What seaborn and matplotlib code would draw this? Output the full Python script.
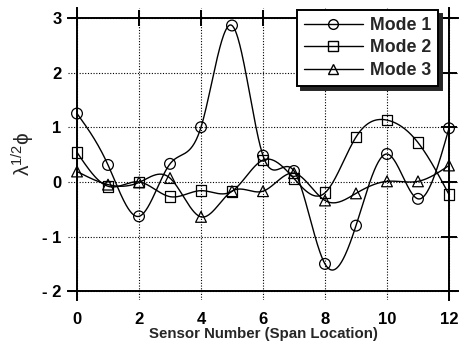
import numpy as np
import pandas as pd
import matplotlib
matplotlib.use("Agg")
import matplotlib.pyplot as plt
from matplotlib.lines import Line2D
import seaborn as sns

sensors = list(range(13))
mode1 = [1.25, 0.31, -0.63, 0.33, 1.0, 2.86, 0.48, 0.2, -1.5, -0.8, 0.51, -0.31, 0.98]
mode2 = [0.54, -0.08, 0.0, -0.27, -0.16, -0.17, 0.4, 0.06, -0.2, 0.82, 1.13, 0.72, -0.23]
mode3 = [0.19, -0.05, -0.01, 0.07, -0.64, -0.17, -0.17, 0.16, -0.34, -0.21, 0.01, 0.01, 0.3]
mode_names = ["Mode 1", "Mode 2", "Mode 3"]
x_ticks = [0, 2, 4, 6, 8, 10, 12]
y_ticks = [-2, -1, 0, 1, 2, 3]
y_tick_labels = ["- 2", "- 1", "0", "1", "2", "3"]


def natural_spline(x, y, xs):
    x = np.asarray(x, float)
    y = np.asarray(y, float)
    n = len(x)
    h = np.diff(x)
    A = np.zeros((n, n))
    b = np.zeros(n)
    A[0, 0] = 1
    A[-1, -1] = 1
    for i in range(1, n - 1):
        A[i, i - 1] = h[i - 1]
        A[i, i] = 2 * (h[i - 1] + h[i])
        A[i, i + 1] = h[i]
        b[i] = 3 * ((y[i + 1] - y[i]) / h[i] - (y[i] - y[i - 1]) / h[i - 1])
    c = np.linalg.solve(A, b)
    bb = (y[1:] - y[:-1]) / h - h * (2 * c[:-1] + c[1:]) / 3
    d = (c[1:] - c[:-1]) / (3 * h)
    idx = np.clip(np.searchsorted(x, xs) - 1, 0, n - 2)
    dx = xs - x[idx]
    return y[idx] + bb[idx] * dx + c[idx] * dx ** 2 + d[idx] * dx ** 3


sns.set_theme(style="white")
plt.rcParams["font.family"] = ["Liberation Sans", "DejaVu Sans"]
plt.rcParams["mathtext.fontset"] = "custom"
plt.rcParams["mathtext.rm"] = "Liberation Sans"
plt.rcParams["mathtext.it"] = "Liberation Sans"

fig = plt.figure(figsize=(4.64, 3.45), dpi=100)
ax = fig.add_axes([0.1466, 0.1304, 0.987 - 0.1466, 0.9768 - 0.1304])

series = [mode1, mode2, mode3]
pts = pd.DataFrame({
    "x": sensors * 3,
    "y": mode1 + mode2 + mode3,
    "mode": sum([[m] * 13 for m in mode_names], []),
})
xs = np.linspace(0, 12, 600)
dense = pd.concat([
    pd.DataFrame({"x": xs, "y": natural_spline(sensors, s, xs), "mode": m})
    for s, m in zip(series, mode_names)
])

pal = {m: "black" for m in mode_names}
sns.lineplot(data=dense, x="x", y="y", hue="mode", palette=pal, linewidth=1.0,
             legend=False, ax=ax, estimator=None, sort=False)
markers = {"Mode 1": "o", "Mode 2": "s", "Mode 3": "^"}
sns.scatterplot(data=pts, x="x", y="y", style="mode", markers=markers, s=60,
                facecolor="none", edgecolor="black", linewidth=0.9,
                legend=False, ax=ax, zorder=3)
for coll in ax.collections:
    coll.set_facecolor("none")
    coll.set_edgecolor("black")

ax.set_xlim(-0.29, 12.29)
ax.set_ylim(-2.16, 3.18)
for side, pos in [("left", 0), ("right", 12), ("bottom", -2), ("top", 3)]:
    ax.spines[side].set_position(("data", pos))
    ax.spines[side].set_color("black")
    ax.spines[side].set_linewidth(1.4)
ax.set_xticks(x_ticks)
ax.set_yticks(y_ticks)
ax.set_yticklabels(y_tick_labels)
ax.tick_params(direction="inout", length=12, width=1.4, colors="black",
               top=True, right=True, labeltop=False, labelright=False,
               labelsize=12)
ax.tick_params(axis="x", pad=9)
ax.tick_params(axis="y", pad=5)
for lab in ax.get_xticklabels() + ax.get_yticklabels():
    lab.set_fontweight("bold")
ax.grid(True, linestyle=(0, (1, 1.5)), color="black", linewidth=0.8)
ax.set_xlabel("Sensor Number (Span Location)", fontsize=10.8, fontweight="bold", labelpad=0)
ax.set_ylabel("λ$^{1/2}$ϕ", fontsize=15, labelpad=4)

handles = [Line2D([], [], color="black", linewidth=1.0, marker=markers[m],
                  markersize=7, markerfacecolor="none", markeredgecolor="black")
           for m in mode_names]
leg = ax.legend(handles, mode_names, loc="upper right", bbox_to_anchor=(0.949, 0.993),
                borderaxespad=0, frameon=True, fancybox=False,
                shadow={"ox": 3, "oy": -3, "color": "0.15", "alpha": 1},
                edgecolor="black", framealpha=1, handlelength=3.3, fontsize=12.8,
                borderpad=0.4, labelspacing=0.3, handletextpad=0.4)
leg.get_frame().set_linewidth(1.4)
for t in leg.get_texts():
    t.set_fontweight("bold")

fig.savefig("out.png", dpi=100)
